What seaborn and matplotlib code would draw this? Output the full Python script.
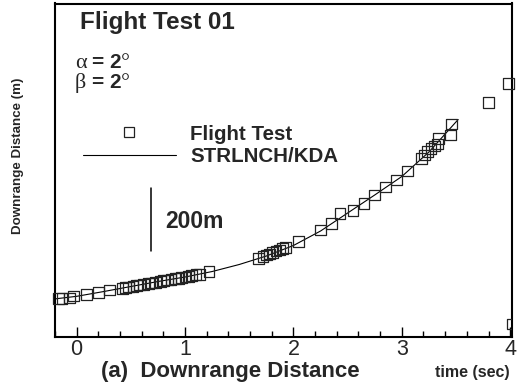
import numpy as np
import pandas as pd
import matplotlib
matplotlib.use("Agg")
import matplotlib.pyplot as plt
from matplotlib.lines import Line2D
from matplotlib.ticker import MultipleLocator
import seaborn as sns

# ---- data (time in s, downrange distance in m) ----
test_t = [-0.168, -0.136, -0.066, -0.03, 0.09, 0.20, 0.30,
          0.42, 0.45, 0.48, 0.52, 0.55, 0.58, 0.62, 0.66, 0.69, 0.73, 0.77,
          0.80, 0.84, 0.87, 0.91, 0.94, 0.97, 1.00, 1.03, 1.06, 1.10, 1.13,
          1.22,
          1.68, 1.72, 1.75, 1.78, 1.81, 1.84, 1.87, 1.90, 1.93,
          2.05, 2.25, 2.35, 2.43, 2.55, 2.65, 2.75, 2.85, 2.95, 3.05,
          3.18, 3.21, 3.24, 3.27, 3.30, 3.33, 3.34, 3.45, 3.46,
          3.80, 3.984]
test_d = [-5, -5, -3, 3, 9, 15, 22,
          28, 30, 32, 34, 36, 38, 40, 43, 45, 47, 50,
          52, 54, 56, 58, 60, 62, 64, 66, 68, 71, 73,
          81,
          124, 129, 134, 137, 142, 147, 150, 155, 159,
          176, 214, 235, 267, 277, 299, 325, 351, 373, 402,
          442, 453, 463, 474, 482, 488, 506, 517, 552,
          621, 682]
edge_t = [4.023]
edge_d = [-86]

sim_t = [-0.21, 0.0, 0.25, 0.5, 0.75, 1.0, 1.25, 1.5, 1.75, 2.0,
         2.25, 2.5, 2.75, 3.0, 3.25, 3.52]
sim_d = [-6.4, 2.2, 17.5, 33.5, 49.4, 63.8, 81.3, 103.7, 130.8, 164.3,
         210.5, 267.9, 325.4, 384.4, 462.5, 566.2]

scale_t = [0.686, 0.686]
scale_d = [147, 347]

xticks = [0, 1, 2, 3, 4]

W, H = 519, 389
sns.set_theme(style="white")
plt.rcParams["font.family"] = ["Liberation Sans", "DejaVu Sans"]

fig = plt.figure(figsize=(W / 100, H / 100), dpi=100)
ax = fig.add_axes([55 / W, 1 - 336.7 / H, (511.5 - 55) / W, (336.7 - 3.5) / H])

def fx(px):
    return px / W

def fy(py):
    return 1 - py / H

df_test = pd.DataFrame({"t": test_t, "d": test_d})
df_sim = pd.DataFrame({"t": sim_t, "d": sim_d})
df_edge = pd.DataFrame({"t": edge_t, "d": edge_d})

sns.lineplot(data=df_sim, x="t", y="d", ax=ax, color="black", linewidth=0.8,
             sort=False, legend=False)
sns.scatterplot(data=df_test, x="t", y="d", ax=ax, marker="s", s=60,
                facecolor="none", edgecolor="#222222", linewidth=0.9,
                legend=False, clip_on=False, zorder=3)
sns.scatterplot(data=df_edge, x="t", y="d", ax=ax, marker="s", s=60,
                facecolor="none", edgecolor="#222222", linewidth=0.9,
                legend=False, zorder=3)

ax.plot(scale_t, scale_d, color="black", linewidth=1.1)

ax.set_xlim(-0.2, 4.012)
ax.set_ylim(-126.6, 936.2)
ax.set_xticks(xticks)
ax.set_xticklabels([str(v) for v in xticks], fontsize=15.5)
ax.xaxis.set_minor_locator(MultipleLocator(0.2))
ax.set_yticks([])
ax.tick_params(axis="x", which="major", direction="in", length=7, width=1,
               color="black", bottom=True, top=False, pad=1.5)
ax.tick_params(axis="x", which="minor", direction="in", length=4.5, width=1,
               color="black", bottom=True, top=False)
ax.set_xlabel("")
ax.set_ylabel("")
for sp in ax.spines.values():
    sp.set_color("black")
    sp.set_linewidth(1.5)
    sp.set_visible(True)

# texts
fig.text(fx(80), fy(23), "Flight Test 01", fontsize=17.5, fontweight="bold",
         ha="left", va="center")
for row_base, greek in [(68, "α"), (88, "β")]:
    fig.text(fx(75), fy(row_base), greek, fontsize=16,
             family=["Liberation Serif"], ha="left", va="baseline")
    fig.text(fx(92), fy(row_base), "= 2", fontsize=15, fontweight="bold",
             ha="left", va="baseline")
    fig.text(fx(121), fy(row_base), "°", fontsize=16,
             family=["Liberation Serif"], ha="left", va="baseline")

fig.text(fx(165), fy(221.5), "200m", fontsize=16.5, fontweight="bold",
         ha="left", va="center")

fig.text(fx(101), fy(372), "(a)  Downrange Distance", fontsize=16,
         fontweight="bold", ha="left", va="center")
fig.text(fx(510), fy(373), "time (sec)", fontsize=11.5, fontweight="bold",
         ha="right", va="center")
fig.text(fx(18), fy(156), "Downrange Distance (m)", fontsize=9.6,
         fontweight="bold", rotation=90, ha="center", va="center")

handles = [Line2D([], [], marker="s", ls="none", mfc="none", mec="#222222",
                  ms=6.5, mew=0.9),
           Line2D([], [], color="black", lw=0.8)]
ax.legend(handles, ["Flight Test", "STRLNCH/KDA"], loc="upper left",
          bbox_to_anchor=(fx(83), fy(124.5)), bbox_transform=fig.transFigure,
          frameon=False, handlelength=4.5, handletextpad=0.72,
          labelspacing=0.16, borderpad=0, borderaxespad=0,
          prop={"weight": "bold", "size": 14.8})

fig.savefig("out.png", dpi=100)
